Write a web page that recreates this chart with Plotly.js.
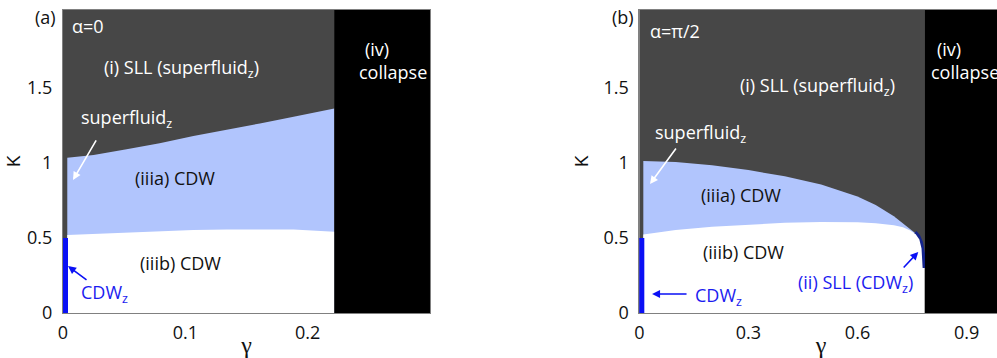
<!DOCTYPE html>
<html>
<head>
<meta charset="utf-8">
<script src="https://cdn.plot.ly/plotly-3.0.1.min.js"></script>
<style>
  html, body { margin: 0; padding: 0; overflow: hidden; background: #fff; }
  #chart { width: 1003px; height: 358px; }
</style>
</head>
<body>
<div id="chart"></div>
<script>
// panel (a), alpha = 0
const gammaA = [0.0035, 0.025, 0.052, 0.079, 0.1066, 0.134, 0.161, 0.1885, 0.2218];
const upperA = [1.035, 1.053, 1.091, 1.131, 1.18, 1.22, 1.264, 1.309, 1.364];
const lowerA = [0.52, 0.527, 0.535, 0.545, 0.553, 0.557, 0.558, 0.556, 0.542];
const collapseA = 0.2218;
const gammaMaxA = 0.3;

// panel (b), alpha = pi/2
const gammaUpperB = [0.011, 0.1, 0.2, 0.3, 0.4, 0.5, 0.6, 0.65, 0.7, 0.725, 0.745, 0.76];
const upperB = [1.013, 1.006, 0.985, 0.953, 0.911, 0.857, 0.777, 0.72, 0.645, 0.598, 0.56, 0.53];
const gammaLowerB = [0.011, 0.1, 0.2, 0.3, 0.4, 0.5, 0.6, 0.65, 0.7, 0.725, 0.745, 0.76, 0.77, 0.776, 0.778, 0.779, 0.7845];
const lowerB = [0.524, 0.553, 0.575, 0.59, 0.601, 0.607, 0.605, 0.598, 0.585, 0.572, 0.55, 0.525, 0.49, 0.43, 0.36, 0.30, 0.30];
const gammaSllB = [0.757, 0.766, 0.773, 0.778, 0.781, 0.782];
const sllB = [0.535, 0.51, 0.47, 0.42, 0.36, 0.30];
const collapseB = Math.PI / 4;
const gammaMaxB = 1.0;

// CDW_z line at gamma = 0
const cdwzTop = 0.5;
const kappaMax = 2.02;

const darkGray = '#474747';
const lightBlue = '#b1c5fd';
const lineBlue = '#0a10f5';
const textBlue = '#1b1bf0';
const navy = '#14248c';
const sans = 'Open Sans, sans-serif';

function fillTrace(x, y, color, xa, ya) {
  return { x: x, y: y, xaxis: xa, yaxis: ya, mode: 'lines', fill: 'tozeroy',
           fillcolor: color, line: { width: 0, color: color }, hoverinfo: 'skip' };
}

function collapseTrace(g0, g1, xa, ya) {
  return { x: [g0, g1, g1, g0], y: [0, 0, kappaMax, kappaMax], xaxis: xa, yaxis: ya,
           mode: 'lines', fill: 'toself', fillcolor: '#000', line: { width: 0, color: '#000' },
           hoverinfo: 'skip' };
}

const data = [
  fillTrace(gammaA, upperA, lightBlue, 'x', 'y'),
  fillTrace(gammaA, lowerA, '#fff', 'x', 'y'),
  { x: [0, 0], y: [0, cdwzTop], xaxis: 'x', yaxis: 'y', mode: 'lines',
    line: { color: lineBlue, width: 10 }, hoverinfo: 'skip' },
  collapseTrace(collapseA, gammaMaxA, 'x', 'y'),

  fillTrace(gammaUpperB, upperB, lightBlue, 'x2', 'y2'),
  { x: gammaSllB, y: sllB, xaxis: 'x2', yaxis: 'y2', mode: 'lines',
    line: { color: navy, width: 5 }, hoverinfo: 'skip' },
  fillTrace(gammaLowerB, lowerB, '#fff', 'x2', 'y2'),
  { x: [0, 0], y: [0, cdwzTop], xaxis: 'x2', yaxis: 'y2', mode: 'lines',
    line: { color: lineBlue, width: 10 }, hoverinfo: 'skip' },
  collapseTrace(collapseB, gammaMaxB, 'x2', 'y2')
];

const font = { family: sans, size: 18, color: '#111' };

function xAxis(domain, range, ticks) {
  return {
    domain: domain, range: range, tickvals: ticks, ticktext: ticks.map(String),
    showgrid: false, zeroline: false, showline: true, mirror: true,
    linecolor: '#808080', linewidth: 1, ticks: '', ticklabelstandoff: 3,
    tickfont: font, fixedrange: true,
    title: { text: 'γ', font: { family: 'Liberation Serif, serif', size: 24, color: '#111' }, standoff: 0 }
  };
}

function yAxis(anchor) {
  return {
    anchor: anchor, domain: [0, 1], range: [0, kappaMax],
    tickvals: [0, 0.5, 1, 1.5], ticktext: ['0', '0.5', '1', '1.5'],
    showgrid: false, zeroline: false, showline: true, mirror: true,
    linecolor: '#808080', linewidth: 1, ticks: '', ticklabelstandoff: 6,
    tickfont: font, fixedrange: true,
    title: { text: 'K', font: { family: sans, size: 19, color: '#111' }, standoff: 9 }
  };
}

function label(text, x, y, xref, yref, color, anchor) {
  return { text: text, x: x, y: y, xref: xref, yref: yref, showarrow: false,
           xanchor: anchor || 'center', yanchor: 'middle',
           font: { family: sans, size: 18, color: color } };
}

function arrow(x, y, ax, ay, xref, yref, color) {
  return { text: '', x: x, y: y, ax: ax, ay: ay, xref: xref, yref: yref,
           showarrow: true, arrowhead: 2, arrowsize: 1, arrowwidth: 1.6, arrowcolor: color };
}

const annotations = [
  label('(a)', -0.0191, 0.977, 'paper', 'paper', '#111'),
  label('α=0', 0.0057, 1.913, 'x', 'y', '#fff', 'left'),
  label('(i) SLL (superfluid<sub>z</sub>)', 0.0966, 1.633, 'x', 'y', '#fff'),
  label('(iv)', 0.2455, 1.76, 'x', 'y', '#fff', 'left'),
  label('collapse', 0.2406, 1.607, 'x', 'y', '#fff', 'left'),
  label('superfluid<sub>z</sub>', 0.0131, 1.30, 'x', 'y', '#fff', 'left'),
  label('(iiia) CDW', 0.0917, 0.90, 'x', 'y', '#111'),
  label('(iiib) CDW', 0.0957, 0.333, 'x', 'y', '#111'),
  label('CDW<sub>z</sub>', 0.0131, 0.133, 'x', 'y', textBlue, 'left'),
  arrow(0.0082, 0.887, 24, -41, 'x', 'y', '#fff'),
  arrow(0.0041, 0.313, 20, 15, 'x', 'y', lineBlue),

  label('(b)', 0.5957, 0.977, 'paper', 'paper', '#111'),
  label('α=π/2', 0.024, 1.88, 'x2', 'y2', '#fff', 'left'),
  label('(i) SLL (superfluid<sub>z</sub>)', 0.489, 1.507, 'x2', 'y2', '#fff'),
  label('(iv)', 0.814, 1.76, 'x2', 'y2', '#fff', 'left'),
  label('collapse', 0.797, 1.607, 'x2', 'y2', '#fff', 'left'),
  label('superfluid<sub>z</sub>', 0.0377, 1.20, 'x2', 'y2', '#fff', 'left'),
  label('(iiia) CDW', 0.28, 0.787, 'x2', 'y2', '#111'),
  label('(iiib) CDW', 0.2855, 0.407, 'x2', 'y2', '#111'),
  label('(ii) SLL (CDW<sub>z</sub>)', 0.594, 0.20, 'x2', 'y2', textBlue),
  label('CDW<sub>z</sub>', 0.1478, 0.113, 'x2', 'y2', textBlue, 'left'),
  arrow(0.0295, 0.86, 27, -37, 'x2', 'y2', '#fff'),
  arrow(0.767, 0.407, -16, 17, 'x2', 'y2', lineBlue),
  arrow(0.035, 0.127, 36, 0, 'x2', 'y2', lineBlue)
];

const layout = {
  width: 1003, height: 358,
  margin: { l: 63, r: 0, t: 10, b: 45 },
  paper_bgcolor: '#fff', plot_bgcolor: darkGray,
  showlegend: false, hovermode: false, font: font,
  xaxis: xAxis([0, 0.3904], [0, gammaMaxA], [0, 0.1, 0.2]),
  yaxis: yAxis('x'),
  xaxis2: Object.assign(xAxis([0.6131, 1], [0, gammaMaxB], [0, 0.3, 0.6, 0.9]), { anchor: 'y2' }),
  yaxis2: yAxis('x2'),
  annotations: annotations
};
layout.xaxis.anchor = 'y';

Plotly.newPlot('chart', data, layout, { displayModeBar: false, staticPlot: true });
</script>
</body>
</html>
